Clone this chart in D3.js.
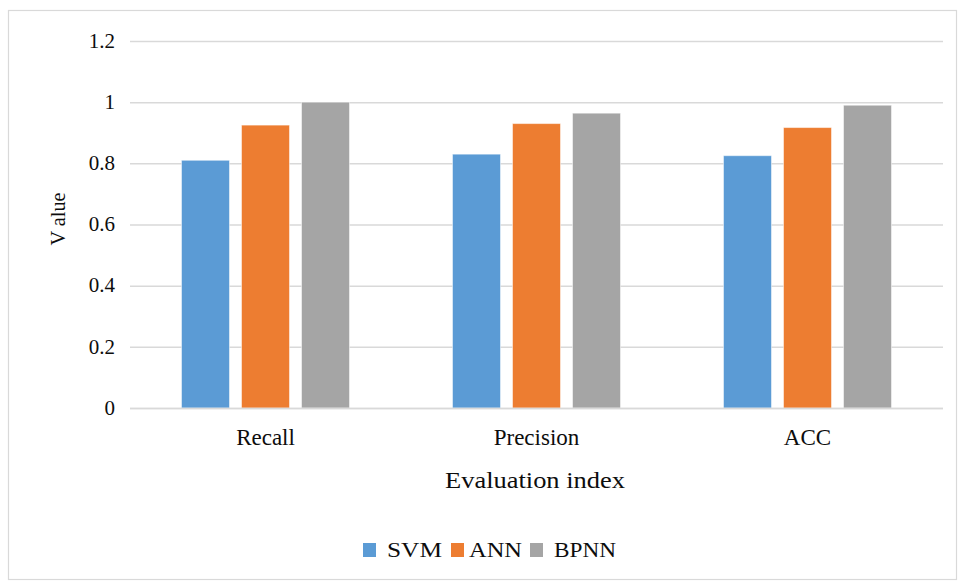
<!DOCTYPE html>
<html>
<head>
<meta charset="utf-8">
<script src="https://cdn.jsdelivr.net/npm/d3@7"></script>
<style>
  html, body { margin: 0; padding: 0; background: #fff; }
  svg { display: block; }
</style>
</head>
<body>
<svg id="chart" width="958" height="582"></svg>
<script>
// Evaluation metrics per classifier
const categories = ["Recall", "Precision", "ACC"];
const seriesNames = ["SVM", "ANN", "BPNN"];
const svmValues  = [0.81, 0.83, 0.825];
const annValues  = [0.925, 0.93, 0.917];
const bpnnValues = [1.0, 0.964, 0.99];
const yTicks = [0, 0.2, 0.4, 0.6, 0.8, 1, 1.2];
const colors = ["#5b9bd5", "#ed7d31", "#a5a5a5"];

const seriesValues = [svmValues, annValues, bpnnValues];
const FONT = "'Liberation Serif', 'Times New Roman', serif";
const INK = "#0d0d0d";

const svg = d3.select("#chart");
const W = 958, H = 582;
const plot = { left: 130, right: 943, top: 41, bottom: 408 };

// Outer chart frame
svg.append("rect")
  .attr("x", 8.5).attr("y", 10.5)
  .attr("width", W - 10).attr("height", H - 13)
  .attr("fill", "#fff").attr("stroke", "#d9d9d9").attr("stroke-width", 1.2);

const x = d3.scaleBand().domain(categories).range([plot.left, plot.right]).paddingInner(0).paddingOuter(0);
const xInner = d3.scaleBand().domain(seriesNames).range([0, x.bandwidth()]).paddingInner(0.2).paddingOuter(0.858);
const y = d3.scaleLinear().domain([0, 1.2]).range([plot.bottom, plot.top]);

// Horizontal gridlines and tick labels
const yAxis = d3.axisLeft(y).tickValues(yTicks).tickFormat(d3.format("~g"))
  .tickSize(-(plot.right - plot.left)).tickPadding(15);
const gy = svg.append("g").attr("transform", `translate(${plot.left},0)`).call(yAxis);
gy.select(".domain").remove();
gy.selectAll(".tick line").attr("stroke", "#d9d9d9").attr("stroke-width", 1.5);
gy.selectAll(".tick text").attr("fill", INK).attr("font-size", 21).attr("dy", "0.3em");

// Bars
const groups = svg.append("g").selectAll("g").data(categories).join("g")
  .attr("transform", d => `translate(${x(d)},0)`);
groups.selectAll("rect")
  .data((c, ci) => seriesNames.map((s, si) => ({ s, si, v: seriesValues[si][ci] })))
  .join("rect")
  .attr("x", d => xInner(d.s))
  .attr("width", xInner.bandwidth())
  .attr("y", d => y(d.v))
  .attr("height", d => y(0) - y(d.v))
  .attr("fill", d => colors[d.si])
  .attr("stroke", "#ffffff").attr("stroke-opacity", 0.5).attr("stroke-width", 1);

// Baseline
svg.append("line")
  .attr("x1", plot.left).attr("x2", plot.right)
  .attr("y1", y(0) + 0.5).attr("y2", y(0) + 0.5)
  .attr("stroke", "#d9d9d9").attr("stroke-width", 1.5);

// Category labels
const xAxis = d3.axisBottom(x).tickSize(0);
const gx = svg.append("g").attr("transform", `translate(0,${plot.bottom})`).call(xAxis);
gx.select(".domain").remove();
gx.selectAll(".tick text").attr("fill", INK).attr("font-size", 23)
  .attr("y", 37).attr("dy", 0);

// Axis titles
svg.append("text")
  .attr("x", 535).attr("y", 488)
  .attr("text-anchor", "middle").attr("font-size", 23).attr("fill", INK)
  .attr("textLength", 180).attr("lengthAdjust", "spacingAndGlyphs")
  .text("Evaluation index");

svg.append("text")
  .attr("transform", `translate(65,219) rotate(-90)`)
  .attr("text-anchor", "middle").attr("font-size", 21).attr("fill", INK)
  .attr("textLength", 53).attr("lengthAdjust", "spacingAndGlyphs")
  .text("V alue");

// Legend
const legendItems = [
  { name: "SVM", sx: 363, tx: 387, len: 55 },
  { name: "ANN", sx: 451, tx: 469, len: 53 },
  { name: "BPNN", sx: 530, tx: 554, len: 62 }
];
const lg = svg.append("g");
legendItems.forEach((it, i) => {
  lg.append("rect").attr("x", it.sx).attr("y", 543).attr("width", 13).attr("height", 14)
    .attr("fill", colors[i]);
  lg.append("text").attr("x", it.tx).attr("y", 557)
    .attr("font-size", 20).attr("fill", INK)
    .attr("textLength", it.len).attr("lengthAdjust", "spacingAndGlyphs")
    .text(it.name);
});

// Typeface applied to every label
svg.selectAll("g").attr("font-family", null);
svg.selectAll("text").style("font-family", FONT);
</script>
</body>
</html>
